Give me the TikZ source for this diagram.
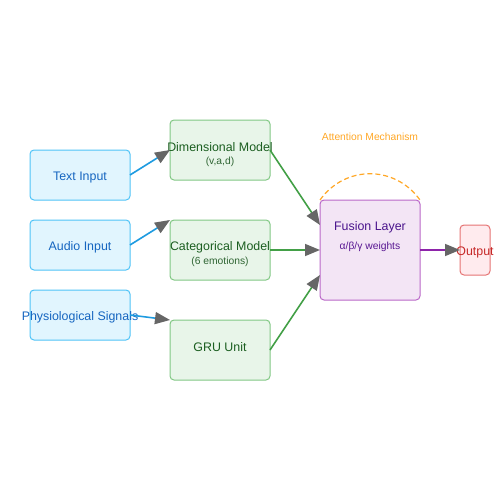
\documentclass[tikz,border=0pt]{standalone}
\usepackage{fontspec}
\setmainfont{Liberation Sans}
\usetikzlibrary{arrows.meta}
\definecolor{bfill}{HTML}{E1F5FE}\definecolor{bdraw}{HTML}{4FC3F7}\definecolor{btext}{HTML}{1565C0}\definecolor{bline}{HTML}{1E9BE0}
\definecolor{gfill}{HTML}{E8F5E9}\definecolor{gdraw}{HTML}{81C784}\definecolor{gtext}{HTML}{1B5E20}\definecolor{gline}{HTML}{43A047}
\definecolor{pfill}{HTML}{F3E5F5}\definecolor{pdraw}{HTML}{BA68C8}\definecolor{ptext}{HTML}{4A148C}\definecolor{pline}{HTML}{8E24AA}
\definecolor{rfill}{HTML}{FFEBEE}\definecolor{rdraw}{HTML}{E57373}\definecolor{rtext}{HTML}{C62828}
\definecolor{orng}{HTML}{FFA726}\definecolor{tipc}{HTML}{666666}
\tikzset{
  box/.style={rounded corners=4pt, line width=1pt},
  inbox/.style={box, fill=bfill, draw=bdraw},
  modbox/.style={box, fill=gfill, draw=gdraw},
  fusbox/.style={box, fill=pfill, draw=pdraw},
  outbox/.style={box, fill=rfill, draw=rdraw},
  lbl/.style={font=\fontsize{12.4}{14}\selectfont, inner sep=0pt},
  sub/.style={font=\fontsize{10.3}{12}\selectfont, inner sep=0pt},
  conn/.style={line width=1.6pt, -{Triangle[length=15pt,width=12pt,color=tipc,fill=tipc]}, shorten >=0pt},
}
\begin{document}
\begin{tikzpicture}[x=1pt,y=-1pt]
\useasboundingbox (0,0) rectangle (500,500);
% input boxes
\draw[inbox] (30,150) rectangle (130,200); \coordinate (ti) at (130,175);
\draw[inbox] (30,220) rectangle (130,270); \coordinate (ai) at (130,245);
\draw[inbox] (30,290) rectangle (130,340); \coordinate (pi) at (130,315);
\node[lbl, text=btext] (tt) at (80,177.5) {Text Input};
\node[lbl, text=btext] (at) at (80,247.5) {Audio Input};
\node[lbl, text=btext] (pt) at (80,317.5) {Physiological Signals};
% model boxes
\draw[modbox] (170,120) rectangle (270,180);
\draw[modbox] (170,220) rectangle (270,280);
\draw[modbox] (170,320) rectangle (270,380);
\coordinate (dmi) at (170,150); \coordinate (dmo) at (270,150);
\coordinate (cmi) at (170,220); \coordinate (cmo) at (270,250);
\coordinate (gri) at (170,320); \coordinate (gro) at (270,350);
\node[lbl, text=gtext] (dm) at (220,147.5) {Dimensional Model};
\node[sub, text=gtext!80!gray] (dms) at (220,162) {(v,a,d)};
\node[lbl, text=gtext] (cm) at (220,247.5) {Categorical Model};
\node[sub, text=gtext!80!gray] (cms) at (220,262) {(6 emotions)};
\node[lbl, text=gtext] (gr) at (220,347.5) {GRU Unit};
% fusion
\draw[fusbox] (320,200) rectangle (420,300);
\coordinate (f1) at (320,225); \coordinate (f2) at (320,250); \coordinate (f3) at (320,275); \coordinate (fo) at (420,250);
\node[lbl, text=ptext] (fl) at (370,227.5) {Fusion Layer};
\node[sub, text=ptext!80!pline] (fw) at (370,247) {α/β/γ weights};
% output
\draw[outbox] (460,225) rectangle (490,275); \coordinate (oi) at (460,250);
\node[lbl, text=rtext] (ot) at (475,252) {Output};
% attention
\coordinate (a1) at (320,200); \coordinate (a2) at (420,200);
\draw[orng, line width=1.2pt, dash pattern=on 5pt off 3pt] (a1) .. controls (345,165) and (395,165) .. (a2);
\node[sub, text=orng] (am) at (370,137) {Attention Mechanism};
% connectors
\draw[conn, bline] (ti) -- (dmi);
\draw[conn, bline] (ai) -- (cmi);
\draw[conn, bline] (pi) -- (gri);
\draw[conn, gline] (dmo) -- (f1);
\draw[conn, gline] (cmo) -- (f2);
\draw[conn, gline] (gro) -- (f3);
\draw[conn, pline] (fo) -- (oi);
\end{tikzpicture}
\end{document}
